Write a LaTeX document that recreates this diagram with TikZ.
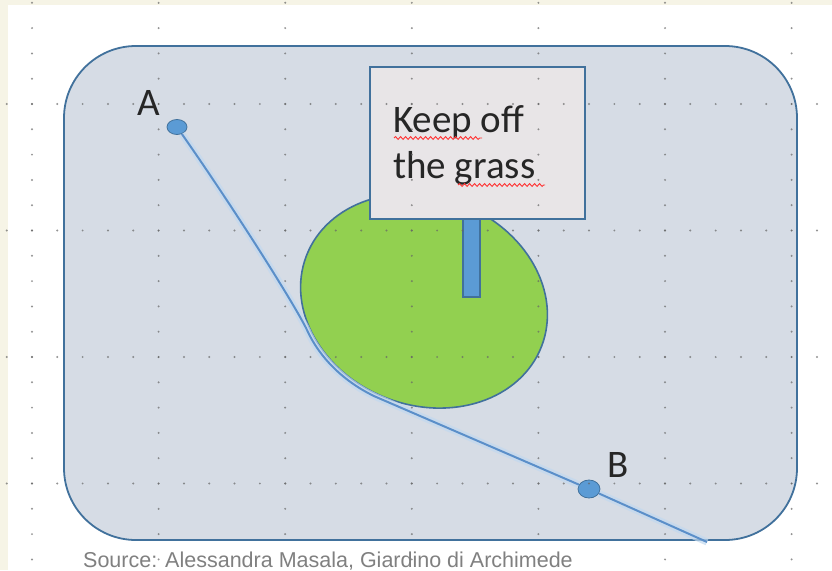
\documentclass[tikz,border=0pt]{standalone}
\usepackage{fontspec}
\setmainfont{Carlito}
\newfontfamily\capfont{Liberation Sans}
\usetikzlibrary{shapes.geometric,decorations.pathmorphing}
\definecolor{pagecream}{HTML}{F6F4E6}
\definecolor{parkgrey}{HTML}{D6DCE5}
\definecolor{edgeblue}{HTML}{41719C}
\definecolor{pathblue}{HTML}{5B8FC9}
\definecolor{haloblue}{HTML}{C2D9EF}
\definecolor{grassgreen}{HTML}{92D050}
\definecolor{signgrey}{HTML}{E8E5E7}
\definecolor{postblue}{HTML}{5B9BD5}

\begin{document}
\begin{tikzpicture}[x=1pt,y=-1pt,park/.style={draw=edgeblue,fill=parkgrey,line width=1.8,rounded corners=72},lawn/.style={draw=edgeblue,fill=grassgreen,line width=1.6},board/.style={draw=edgeblue,fill=signgrey,line width=1.6},signpost/.style={draw=edgeblue,fill=postblue,line width=1.2},spot/.style={ellipse,draw=edgeblue,fill=postblue,line width=0.8,minimum width=20,minimum height=15,inner sep=0},lab/.style={font=\fontsize{39}{39}\selectfont,text=black!85,inner sep=0},walk/.style={draw=pathblue,line width=2},halo/.style={draw=haloblue,line width=7,opacity=0.7},squig/.style={draw=red!80,line width=0.9,decorate,decoration={snake,amplitude=1.4,segment length=5}},gdot/.style={fill=black!60,opacity=0.7}]
\useasboundingbox (0,0) rectangle (832,570);
\clip (0,0) rectangle (832,570);
\fill[pagecream] (0,0) rectangle (832,570);
\fill[white] (8,5) rectangle (832,570);
\draw[park] (64,46) rectangle (797,540);
\draw[lawn,rotate around={-21:(424,301)}] (424,301) ellipse [x radius=126,y radius=104];
\draw[signpost] (463,218) rectangle (480,297);
\node[board,anchor=north west,minimum width=215,minimum height=152] (sign) at (369,66) {};
\node[lab,anchor=base west] (keep) at (393,132) {Keep off};
\node[lab,anchor=base west] (grass) at (393,178) {the grass};
\draw[squig] (394,138) -- (482,138);
\draw[squig] (458,185) -- (545,185);
\node[spot] (a) at (177,127) {};
\node[spot,minimum width=22,minimum height=18] (b) at (589,489) {};
\node[lab] (alab) at (149,103) {A};
\node[lab] (blab) at (618.5,465) {B};
\coordinate (t1) at (307,330);
\coordinate (t2) at (375,396.5);
\coordinate (exit) at (707,542);
\draw[halo] (a) .. controls (235,210) and (295,305) .. (t1) .. controls (319.7,358.1) and (344.4,382) .. (t2) -- (b) -- (exit);
\draw[walk] (a) .. controls (235,210) and (295,305) .. (t1) .. controls (319.7,358.1) and (344.4,382) .. (t2) -- (b) -- (exit);
\foreach \gx in {32,158.6,...,800} \foreach \k in {-4,...,18} \fill[gdot] (\gx,104+25.3*\k) circle (1.1);
\foreach \gy in {104,230.5,357,483.5} \foreach \k in {-1,...,31} \fill[gdot] (32+25.32*\k,\gy) circle (1.1);
\node[font=\capfont\fontsize{21.5}{21.5}\selectfont,text=black!50,anchor=base west,inner sep=0] (src) at (83,567.5) {Source: Alessandra Masala, Giardino di Archimede};
\end{tikzpicture}
\end{document}
